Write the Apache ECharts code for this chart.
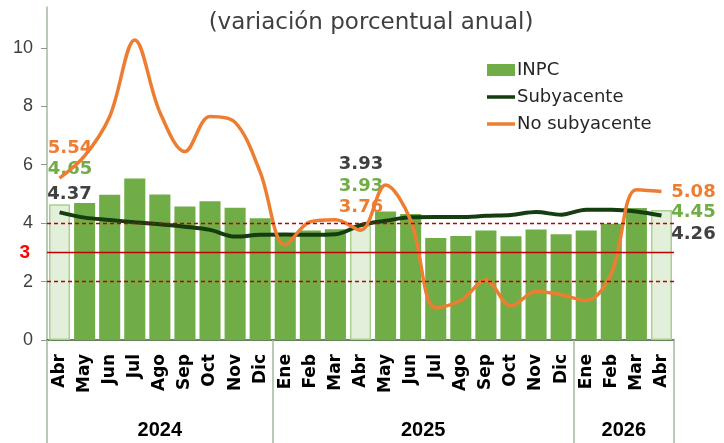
<!DOCTYPE html>
<html>
<head>
<meta charset="utf-8">
<script src="https://cdn.jsdelivr.net/npm/echarts@6/dist/echarts.min.js"></script>
<style>
html, body { margin: 0; padding: 0; background: #fff; }
#charts { width: 724px; height: 443px; }
</style>
</head>
<body>
<div id="charts"></div>
<script>
// meses (abr 2024 - abr 2026)
var meses = ['Abr', 'May', 'Jun', 'Jul', 'Ago', 'Sep', 'Oct', 'Nov', 'Dic',
    'Ene', 'Feb', 'Mar', 'Abr', 'May', 'Jun', 'Jul', 'Ago', 'Sep', 'Oct', 'Nov', 'Dic',
    'Ene', 'Feb', 'Mar', 'Abr'];
var anios = ['2024', '2025', '2026'];
var mesesPorAnio = [9, 12, 4];

var inpc = [4.65, 4.69, 4.97, 5.53, 4.98, 4.57, 4.75, 4.53, 4.17, 3.62, 3.75, 3.79, 3.93,
    4.40, 4.31, 3.49, 3.56, 3.75, 3.55, 3.78, 3.62, 3.75, 3.98, 4.52, 4.45];
var subyacente = [4.37, 4.19, 4.11, 4.03, 3.96, 3.88, 3.77, 3.54, 3.60, 3.61, 3.60, 3.62, 3.93,
    4.08, 4.20, 4.21, 4.21, 4.25, 4.28, 4.38, 4.29, 4.46, 4.46, 4.40, 4.26];
var noSubyacente = [5.54, 6.30, 7.65, 10.27, 7.80, 6.45, 7.65, 7.45, 5.75, 3.25, 4.05, 4.12, 3.76,
    5.31, 4.10, 1.10, 1.35, 2.05, 1.16, 1.66, 1.55, 1.35, 2.28, 5.14, 5.08];

var ticksY = [0, 2, 4, 6, 8, 10];
var meta = 3;
var intervalo = [2, 4];
var destacados = [0, 12, 24]; // meses con etiqueta

var verde = '#70ad47', verdeClaro = '#e2efda', oscuro = '#143d10', naranja = '#ed7d31';

var myChart = echarts.init(document.getElementById('charts'));

/*
 **datos con etiqueta en los meses destacados
 */
function conEtiquetas(data, color, offsets, extra) {
    return data.map(function (v, i) {
        var k = destacados.indexOf(i);
        var item = { value: v };
        if (extra) extra(item, k);
        if (k < 0) return item;
        item.label = {
            show: true,
            position: 'top',
            distance: 0,
            verticalAlign: 'middle',
            align: 'center',
            offset: offsets[k],
            color: color,
            fontFamily: 'DejaVu Sans',
            fontWeight: 'bold',
            fontSize: 18,
            lineHeight: 20,
            formatter: v.toFixed(2)
        };
        return item;
    });
}

// separadores y centros de cada año
var inicios = [];
var centros = [];
var acc = 0;
mesesPorAnio.forEach(function (n) {
    inicios.push(acc);
    centros.push(acc + n / 2);
    acc += n;
});

var barras = conEtiquetas(inpc, verde, [[10.5, -35], [0.5, -39], [32, 2.4]], function (item, k) {
    if (k >= 0) item.itemStyle = { color: verdeClaro, borderColor: '#a9d08e', borderWidth: 1.5 };
});

var option = {
    animation: false,
    title: {
        text: '(variación porcentual anual)',
        left: 366,
        textAlign: 'center',
        top: 7,
        textStyle: { fontFamily: 'DejaVu Sans', fontWeight: 'normal', fontSize: 23, color: '#404040' }
    },
    legend: {
        orient: 'vertical',
        left: 482,
        top: 56,
        itemWidth: 28,
        itemHeight: 12,
        itemGap: 9,
        textStyle: { fontFamily: 'DejaVu Sans', fontSize: 18, lineHeight: 18, color: '#262626', padding: [0, 0, 0, -3] },
        data: [
            { name: 'INPC', icon: 'rect', itemStyle: { color: verde } },
            { name: 'Subyacente', icon: 'path://M0,0H28V3.5H0Z', itemStyle: { color: oscuro } },
            { name: 'No subyacente', icon: 'path://M0,0H28V3.5H0Z', itemStyle: { color: naranja } }
        ]
    },
    grid: { left: 47, right: 50, top: 7, bottom: 103, containLabel: false, outerBoundsMode: 'none' },
    xAxis: [{
        type: 'category',
        data: meses,
        axisLine: { lineStyle: { color: '#2f5f22', width: 1.5 } },
        axisTick: { show: false },
        axisLabel: {
            interval: 0, rotate: 90, margin: 14,
            fontFamily: 'DejaVu Sans', fontWeight: 'bold', fontSize: 17, color: '#000'
        }
    }, {
        // separadores de año
        type: 'category',
        data: meses,
        position: 'bottom',
        axisLine: { show: false },
        axisLabel: { show: false },
        axisTick: {
            show: true,
            length: 103,
            interval: function (index) { return inicios.indexOf(index) >= 0; },
            lineStyle: { color: '#a5b99f', width: 1.5 }
        }
    }, {
        // años
        type: 'value',
        min: 0,
        max: acc,
        interval: 0.5,
        position: 'bottom',
        axisLine: { show: false },
        axisTick: { show: false },
        splitLine: { show: false },
        axisLabel: {
            margin: 80,
            lineHeight: 20,
            fontFamily: 'Liberation Sans', fontWeight: 'bold', fontSize: 20, color: '#000',
            formatter: function (v) {
                var k = centros.indexOf(v);
                return k >= 0 ? anios[k] : '';
            }
        }
    }],
    yAxis: {
        type: 'value',
        min: 0,
        max: 11.4,
        interval: 2,
        axisLine: { show: true, lineStyle: { color: '#a5b99f', width: 1.5 } },
        axisTick: { show: true, length: 6, customValues: ticksY, lineStyle: { color: '#8a9c86' } },
        splitLine: { show: false },
        axisLabel: {
            margin: 14,
            customValues: ticksY,
            fontFamily: 'Liberation Sans', fontSize: 18, color: '#404040'
        }
    },
    series: [{
        name: 'INPC',
        type: 'bar',
        barCategoryGap: '16%',
        itemStyle: { color: verde },
        data: barras,
        markLine: {
            silent: true,
            symbol: ['none', 'none'],
            data: [
                { yAxis: intervalo[0], lineStyle: { color: '#c00000', type: [4, 3], width: 1.3 }, label: { show: false } },
                {
                    yAxis: meta, lineStyle: { color: '#c00000', type: 'solid', width: 1.3 },
                    label: {
                        show: true, position: 'start', distance: 17, formatter: String(meta),
                        color: '#ff0000', fontFamily: 'Liberation Sans', fontWeight: 'bold', fontSize: 19
                    }
                },
                { yAxis: intervalo[1], lineStyle: { color: '#c00000', type: [4, 3], width: 1.3 }, label: { show: false } }
            ]
        }
    }, {
        name: 'Subyacente',
        type: 'line',
        smooth: 0.35,
        symbol: 'circle',
        symbolSize: 0,
        lineStyle: { color: oscuro, width: 4 },
        itemStyle: { color: oscuro },
        data: conEtiquetas(subyacente, '#404040', [[10, -18.4], [0.5, -61], [32, 18.4]])
    }, {
        name: 'No subyacente',
        type: 'line',
        smooth: 0.35,
        symbol: 'circle',
        symbolSize: 0,
        lineStyle: { color: naranja, width: 3.5 },
        itemStyle: { color: naranja },
        data: conEtiquetas(noSubyacente, naranja, [[10.5, -29.4], [0.5, -22.7], [32, 1]])
    }]
};

myChart.setOption(option);
</script>
</body>
</html>
